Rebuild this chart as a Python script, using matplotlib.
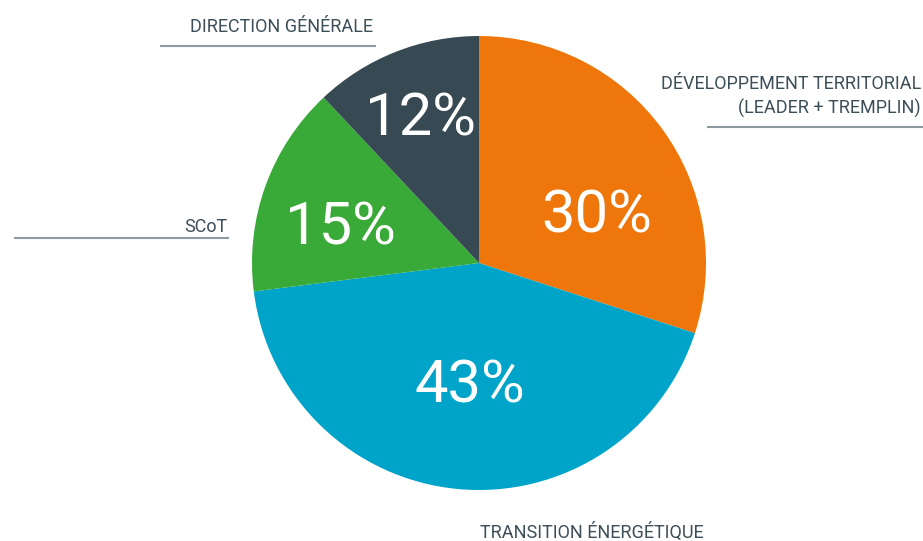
import matplotlib
matplotlib.use("Agg")
import matplotlib.pyplot as plt

# ---- data ----
categories = ["DÉVELOPPEMENT TERRITORIAL\n(LEADER + TREMPLIN)", "TRANSITION ÉNERGÉTIQUE", "SCoT", "DIRECTION GÉNÉRALE"]
values = [30, 43, 15, 12]
pct_labels = ["30%", "43%", "15%", "12%"]
colors = ["#EE760A", "#00A4C8", "#39A937", "#374A54"]

W, H = 923, 541
fig = plt.figure(figsize=(W / 100, H / 100), dpi=100)
ax = fig.add_axes([0, 0, 1, 1])

def Y(y):
    return H - y

cx, cy, r = 479, 263, 227
ax.pie(values, colors=colors, startangle=90, counterclock=False,
       center=(cx, Y(cy)), radius=r, frame=True,
       wedgeprops=dict(linewidth=0))

ax.set_xlim(0, W)
ax.set_ylim(0, H)
ax.set_aspect("equal")
ax.axis("off")

# percentage labels (layout positions)
pct_pos = [(597, 216), (470, 386), (340, 228), (420, 119)]
for (x, y), t in zip(pct_pos, pct_labels):
    ax.text(x, Y(y), t, color="white", fontsize=43, family=["Roboto", "DejaVu Sans"],
            fontweight="normal", ha="center", va="center")

text_color = "#3C4E57"
line_color = "#8C999F"
tf = dict(color=text_color, fontsize=13, family=["Roboto", "DejaVu Sans"], fontweight="normal")

# category labels with underline rules
# DÉVELOPPEMENT TERRITORIAL
ax.text(921, Y(114), categories[0], ha="right", va="baseline", linespacing=1.4, **tf)
ax.plot([708, 922], [Y(127), Y(127)], color=line_color, lw=1.5)
# TRANSITION ÉNERGÉTIQUE
ax.text(592, Y(538), categories[1], ha="center", va="baseline", **tf)
# SCoT
ax.text(227, Y(232), categories[2], ha="right", va="baseline", **tf)
ax.plot([15, 228], [Y(238), Y(238)], color=line_color, lw=1.5)
# DIRECTION GÉNÉRALE
ax.text(373, Y(32), categories[3], ha="right", va="baseline", **tf)
ax.plot([161, 375], [Y(46), Y(46)], color=line_color, lw=1.5)

fig.savefig("out.png", dpi=100)
